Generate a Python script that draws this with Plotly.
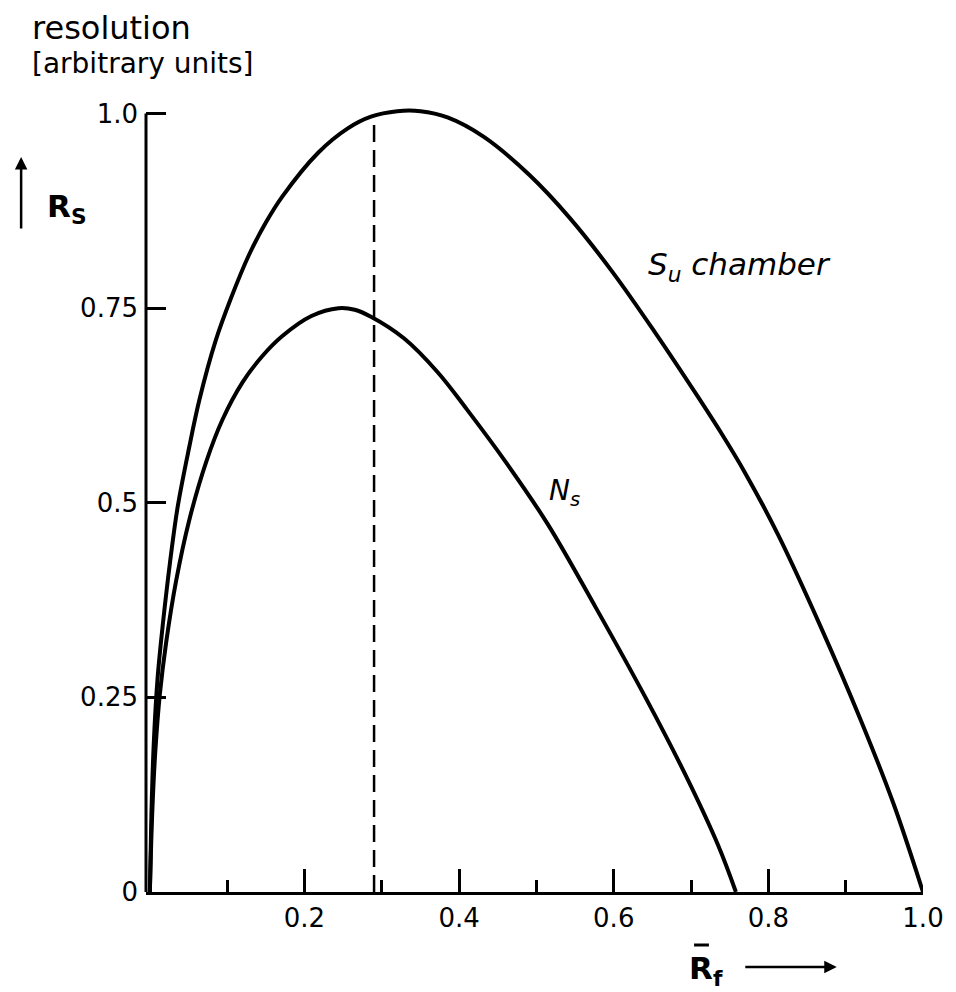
import plotly.graph_objects as go

# ---- data ----
su_x = [0.0, 0.002, 0.005, 0.010, 0.017, 0.026, 0.036, 0.051, 0.064, 0.085, 0.105, 0.128,
        0.150, 0.171, 0.218, 0.256, 0.286, 0.320, 0.350, 0.385, 0.432, 0.491, 0.543,
        0.598, 0.654, 0.709, 0.740, 0.769, 0.812, 0.868, 0.919, 0.962, 1.0]
su_y = [0.0, 0.10, 0.19, 0.275, 0.346, 0.423, 0.495, 0.572, 0.632, 0.708, 0.763, 0.818,
        0.860, 0.893, 0.950, 0.981, 0.996, 1.003, 1.003, 0.995, 0.970, 0.921, 0.866,
        0.797, 0.718, 0.636, 0.588, 0.540, 0.460, 0.340, 0.222, 0.113, 0.0]

ns_x = [0.0, 0.003, 0.007, 0.013, 0.021, 0.034, 0.051, 0.073, 0.094, 0.120, 0.145, 0.171,
        0.209, 0.244, 0.265, 0.286, 0.329, 0.372, 0.410, 0.462, 0.515, 0.577, 0.641,
        0.692, 0.735, 0.758]
ns_y = [0.0, 0.10, 0.18, 0.255, 0.320, 0.400, 0.478, 0.553, 0.607, 0.655, 0.688, 0.714,
        0.740, 0.750, 0.748, 0.739, 0.711, 0.668, 0.620, 0.550, 0.472, 0.365, 0.250,
        0.152, 0.060, 0.0]

marker_x = [0.29, 0.29]
marker_y = [0.0, 0.997]

x_tickvals = [0.2, 0.4, 0.6, 0.8, 1.0]
x_ticktext = ["0.2", "0.4", "0.6", "0.8", "1.0"]
x_minor = [0.1, 0.3, 0.5, 0.7, 0.9]
y_tickvals = [0, 0.25, 0.5, 0.75, 1.0]
y_ticktext = ["0", "0.25", "0.5", "0.75", "1.0"]

# ---- layout geometry ----
W, H = 956, 992
L, R, T, B = 146, 26, 98, 100
PW, PH = W - L - R, H - T - B
XR = [-0.005, 1.0]
YR = [0.0, 1.02]
FONT = "DejaVu Sans"


def px(xp):
    return (xp - L) / PW


def py(yp):
    return (H - B - yp) / PH


fig = go.Figure()
fig.add_trace(go.Scatter(x=su_x, y=su_y, mode="lines",
                         line=dict(color="black", width=4, shape="spline", smoothing=1.0),
                         hoverinfo="skip"))
fig.add_trace(go.Scatter(x=ns_x, y=ns_y, mode="lines",
                         line=dict(color="black", width=4, shape="spline", smoothing=1.0),
                         hoverinfo="skip"))
fig.add_trace(go.Scatter(x=marker_x, y=marker_y, mode="lines",
                         line=dict(color="black", width=2.5, dash="17px,8px"),
                         hoverinfo="skip"))

tickfont = dict(family=FONT, size=26, color="black")
fig.update_xaxes(range=XR, showgrid=False, zeroline=False, showline=True,
                 linecolor="black", linewidth=3,
                 ticks="inside", ticklen=23, tickwidth=2.5, tickcolor="black",
                 tickvals=x_tickvals, ticktext=x_ticktext, tickfont=tickfont,
                 ticklabelstandoff=1,
                 minor=dict(tickvals=x_minor, ticks="inside", ticklen=12,
                            tickwidth=2.5, tickcolor="black", showgrid=False))
fig.update_yaxes(range=YR, showgrid=False, zeroline=False, showline=False,
                 ticks="inside", ticklen=20, tickwidth=3, tickcolor="black",
                 tickvals=y_tickvals, ticktext=y_ticktext, tickfont=tickfont,
                 ticklabelstandoff=7)

# y axis line from 0 to 1.0
y_top = (1.0 - YR[0]) / (YR[1] - YR[0])
shapes = [
    dict(type="line", xref="paper", yref="paper", x0=0, x1=0, y0=0, y1=y_top,
         line=dict(color="black", width=3)),
    # overline on R_f
    dict(type="line", xref="paper", yref="paper", x0=px(699), x1=px(714),
         y0=py(945), y1=py(945), line=dict(color="black", width=3)),
]

annots = [
    dict(text="resolution", x=px(29), y=py(28), xanchor="left", yanchor="middle",
         font=dict(family=FONT, size=32, color="black")),
    dict(text="[arbitrary units]", x=px(29), y=py(64), xanchor="left", yanchor="middle",
         font=dict(family=FONT, size=28, color="black")),
    dict(text="<b>R<sub>S</sub></b>", x=px(44), y=py(208), xanchor="left", yanchor="middle",
         font=dict(family=FONT, size=31, color="black")),
    dict(text="", x=px(20), y=py(157), ax=0, ay=73, showarrow=True, arrowhead=2,
         arrowsize=1, arrowwidth=2.5, arrowcolor="black", xref="paper", yref="paper"),
    dict(text="<b>R<sub>f</sub></b>", x=px(692), y=py(970), xanchor="left", yanchor="middle",
         font=dict(family=FONT, size=31, color="black")),
    dict(text="", x=px(843), y=py(967), ax=-93, ay=0, showarrow=True, arrowhead=2,
         arrowsize=1, arrowwidth=2.5, arrowcolor="black", xref="paper", yref="paper"),
    dict(text="<i>S<sub>u</sub> chamber</i>", x=px(651), y=py(266), xanchor="left",
         yanchor="middle", font=dict(family=FONT, size=31, color="black")),
    dict(text="<i>N<sub>s</sub></i>", x=px(551), y=py(492), xanchor="left",
         yanchor="middle", font=dict(family=FONT, size=28, color="black")),
]
for a in annots:
    a.setdefault("xref", "paper")
    a.setdefault("yref", "paper")
    a.setdefault("showarrow", False)

fig.update_layout(width=W, height=H, margin=dict(l=L, r=R, t=T, b=B, pad=0),
                  paper_bgcolor="white", plot_bgcolor="white", showlegend=False,
                  shapes=shapes, annotations=annots)

fig.write_html("out.html")
